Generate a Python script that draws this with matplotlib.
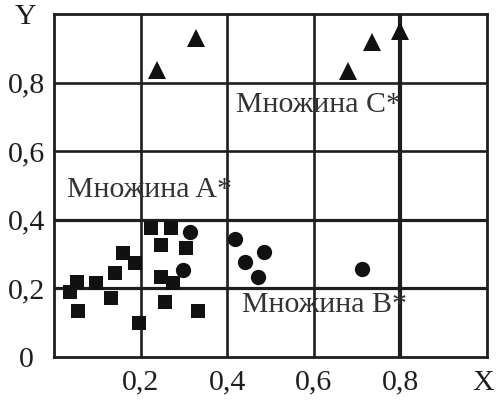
import matplotlib
matplotlib.use("Agg")
import matplotlib.pyplot as plt

# Data
sq_x = [0.223, 0.271, 0.246, 0.305, 0.159, 0.188, 0.141, 0.248, 0.275,
        0.052, 0.097, 0.036, 0.131, 0.056, 0.256, 0.332, 0.196]
sq_y = [0.375, 0.375, 0.328, 0.317, 0.302, 0.275, 0.244, 0.234, 0.215,
        0.220, 0.215, 0.190, 0.171, 0.135, 0.161, 0.135, 0.098]
ci_x = [0.315, 0.297, 0.418, 0.485, 0.441, 0.470, 0.711]
ci_y = [0.365, 0.254, 0.343, 0.307, 0.276, 0.232, 0.257]
tr_x = [0.238, 0.329, 0.679, 0.735, 0.798]
tr_y = [0.837, 0.929, 0.835, 0.919, 0.951]

x_ticks = [0.2, 0.4, 0.6, 0.8]
x_labels = ["0,2", "0,4", "0,6", "0,8"]
y_ticks = [0.0, 0.2, 0.4, 0.6, 0.8]
y_labels = ["0", "0,2", "0,4", "0,6", "0,8"]
grid_x = [0.2, 0.4, 0.6]
grid_y = [0.6, 0.8]
thick_y = [0.2, 0.4]
thick_x = [0.8]
labels = [("Множина C*", 0.420, 0.735), ("Множина A*", 0.030, 0.487),
          ("Множина B*", 0.434, 0.152)]

plt.rcParams['font.family'] = ['Liberation Serif', 'DejaVu Serif']
col = "#1e1e1e"
fs = 21.5

fig = plt.figure(figsize=(4.99, 4.03), dpi=100)
ax = fig.add_axes([0.1082, 0.1141, 0.976 - 0.1082, 0.9653 - 0.1141])
ax.set_xlim(0, 1)
ax.set_ylim(0, 1)

for gx in grid_x:
    ax.axvline(gx, color=col, lw=1.9, zorder=1)
for gy in grid_y:
    ax.axhline(gy, color=col, lw=1.9, zorder=1)
for gy in thick_y:
    ax.axhline(gy, color=col, lw=2.3, zorder=1)
for gx in thick_x:
    ax.axvline(gx, color=col, lw=3.0, zorder=1)

for s in ax.spines.values():
    s.set_linewidth(2.0)
    s.set_color(col)

ax.plot(sq_x, sq_y, 's', color="#111111", ms=9.4, mew=0, zorder=3)
ax.plot(ci_x, ci_y, 'o', color="#111111", ms=11, mew=0, zorder=3)
ax.plot(tr_x, tr_y, '^', color="#111111", ms=12.5, mew=0, zorder=3)

ax.set_xticks(x_ticks)
ax.set_xticklabels(x_labels, fontsize=fs, color=col)
ax.set_yticks(y_ticks)
ax.set_yticklabels(y_labels, fontsize=fs, color=col, ha='center')
ax.tick_params(axis='x', length=0, pad=9)
ax.tick_params(axis='y', length=0, pad=20)

for t, lx, ly in labels:
    ax.text(lx, ly, t, fontsize=fs, color="#333333", ha='left', va='center', zorder=4)

ax.text(-0.066, 0.99, "Y", fontsize=fs, color=col, ha='center', va='center',
        transform=ax.transAxes)
ax.text(0.99, -0.077, "X", fontsize=fs, color=col, ha='center', va='center',
        transform=ax.transAxes)

fig.savefig("out.png", dpi=100)
